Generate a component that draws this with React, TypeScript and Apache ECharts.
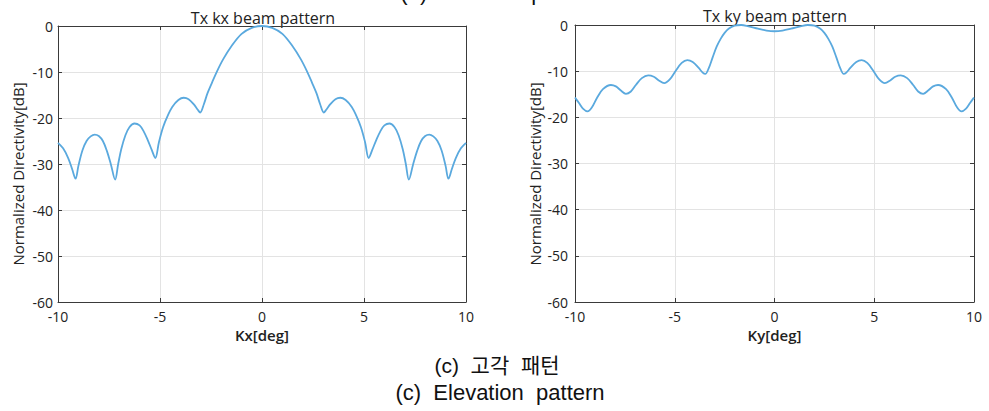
import React, { useEffect, useRef } from "react";
import * as echarts from "echarts";

// Tx kx beam pattern (left)
const kxDeg = [
  -10, -9.75, -9.5, -9.3, -9.14, -9.0, -8.8, -8.6, -8.4, -8.2, -8.0, -7.8, -7.6, -7.4, -7.2,
  -7.05, -6.9, -6.7, -6.5, -6.25, -6.0, -5.8, -5.6, -5.4, -5.23, -5.05, -4.85, -4.62, -4.4,
  -4.1, -3.84, -3.6, -3.35, -3.15, -3.03, -2.85, -2.67, -2.45, -2.2, -1.9, -1.5, -1.0, -0.5,
  0,
  0.5, 1.0, 1.5, 1.9, 2.2, 2.45, 2.67, 2.85, 3.03, 3.15, 3.35, 3.6, 3.84, 4.1, 4.4, 4.62,
  4.85, 5.05, 5.23, 5.4, 5.6, 5.8, 6.0, 6.25, 6.5, 6.7, 6.9, 7.05, 7.2, 7.4, 7.6, 7.8, 8.0,
  8.2, 8.4, 8.6, 8.8, 9.0, 9.14, 9.3, 9.5, 9.75, 10,
];
const kxDb = [
  -25.4, -26.6, -28.7, -31.2, -33.2, -30.4, -27.0, -25.0, -24.0, -23.6, -23.9, -25.0, -27.2, -30.2, -33.4,
  -30.0, -26.8, -23.8, -22.0, -21.2, -21.6, -22.9, -24.8, -27.0, -28.7, -25.2, -22.0, -19.5, -17.6,
  -16.1, -15.6, -15.9, -17.0, -18.2, -18.8, -17.0, -14.6, -12.3, -9.8, -7.2, -4.4, -1.7, -0.4,
  0,
  -0.4, -1.7, -4.4, -7.2, -9.8, -12.3, -14.6, -17.0, -18.8, -18.2, -17.0, -15.9, -15.6, -16.1, -17.6, -19.5,
  -22.0, -25.2, -28.7, -27.0, -24.8, -22.9, -21.6, -21.2, -22.0, -23.8, -26.8, -30.0, -33.4, -30.2, -27.2, -25.0, -23.9,
  -23.6, -24.0, -25.0, -27.0, -30.4, -33.2, -31.2, -28.7, -26.6, -25.4,
];

// Tx ky beam pattern (right)
const kyDeg = [
  -10, -9.8, -9.6, -9.37, -9.15, -8.9, -8.6, -8.2, -7.95, -7.7, -7.45, -7.2, -6.95, -6.65,
  -6.33, -6.05, -5.8, -5.53, -5.25, -4.95, -4.65, -4.37, -4.1, -3.8, -3.6, -3.47, -3.3,
  -3.1, -2.9, -2.7, -2.5, -2.3, -2.0, -1.67, -1.3, -0.83, -0.4,
  0,
  0.4, 0.83, 1.3, 1.67, 2.0, 2.3, 2.5, 2.7, 2.9, 3.1, 3.3, 3.47, 3.6, 3.8, 4.1, 4.37, 4.65,
  4.95, 5.25, 5.53, 5.8, 6.05, 6.33, 6.65, 6.95, 7.2, 7.45, 7.7, 7.95, 8.2, 8.6, 8.9, 9.15,
  9.37, 9.6, 9.8, 10,
];
const kyDb = [
  -15.7, -16.9, -18.1, -18.7, -17.8, -15.8, -13.9, -13.0, -13.3, -14.2, -14.9, -14.4, -13.0, -11.5,
  -10.9, -11.2, -12.0, -12.6, -11.8, -9.9, -8.2, -7.6, -8.0, -9.3, -10.3, -10.6, -9.4,
  -7.0, -4.7, -3.0, -1.7, -0.8, -0.15, 0, -0.3, -0.8, -1.2,
  -1.35,
  -1.2, -0.8, -0.3, 0, -0.15, -0.8, -1.7, -3.0, -4.7, -7.0, -9.4, -10.6, -10.3, -9.3, -8.0, -7.6, -8.2,
  -9.9, -11.8, -12.6, -12.0, -11.2, -10.9, -11.5, -13.0, -14.4, -14.9, -14.2, -13.3, -13.0, -13.9, -15.8, -17.8,
  -18.7, -18.1, -16.9, -15.7,
];

const xMin = -10;
const xMax = 10;
const xStep = 5;
const yMin = -60;
const yMax = 0;
const yStep = 10;

const titles = ["Tx kx beam pattern", "Tx ky beam pattern"];
const xNames = ["Kx[deg]", "Ky[deg]"];
const yName = "Normalized Directivity[dB]";
const topCaption = "(b)\u00a0\u00a0Azimuth\u00a0\u00a0pattern";
const captionKo = "(c)\u00a0\u00a0고각\u00a0\u00a0패턴";
const captionEn = "(c)\u00a0\u00a0Elevation\u00a0\u00a0pattern";

const FONT = "'Open Sans', 'Noto Sans', sans-serif";
const CAPFONT = "'Liberation Sans', 'Noto Sans CJK KR', sans-serif";
const LINE = "#5aa9de";
const AX = "#3a3a3a";
const GRIDC = "#e3e3e3";

export default function App() {
  const ref = useRef<HTMLDivElement>(null);
  useEffect(() => {
    if (!ref.current) return;
    const chart = echarts.init(ref.current, undefined, { renderer: "svg" });
    const grids = [
      { left: 58, top: 26, width: 408, height: 276 },
      { left: 575, top: 25, width: 399, height: 277 },
    ];
    const labelMargins = [5, 7];
    const xAxes: any[] = [];
    const yAxes: any[] = [];
    grids.forEach((_, i) => {
      xAxes.push({
        gridIndex: i,
        type: "value",
        min: xMin,
        max: xMax,
        interval: xStep,
        position: "bottom",
        name: xNames[i],
        nameLocation: "middle",
        nameGap: 23,
        nameTextStyle: { fontFamily: FONT, fontSize: 15, color: "#222", fontWeight: 600 },
        axisLine: { show: true, onZero: false, lineStyle: { color: AX, width: 1 } },
        axisTick: { show: true, inside: true, length: 4, lineStyle: { color: AX } },
        axisLabel: { fontFamily: FONT, fontSize: 14, color: "#222", margin: 7 },
        splitLine: { show: true, lineStyle: { color: GRIDC, width: 1 } },
      });
      xAxes.push({
        gridIndex: i,
        type: "value",
        min: xMin,
        max: xMax,
        interval: xStep,
        position: "top",
        axisLine: { show: true, onZero: false, lineStyle: { color: AX, width: 1 } },
        axisTick: { show: true, inside: true, length: 4, lineStyle: { color: AX } },
        axisLabel: { show: false },
        splitLine: { show: false },
      });
      yAxes.push({
        gridIndex: i,
        type: "value",
        min: yMin,
        max: yMax,
        interval: yStep,
        position: "left",
        axisLine: { show: true, onZero: false, lineStyle: { color: AX, width: 1 } },
        axisTick: { show: true, inside: true, length: 4, lineStyle: { color: AX } },
        axisLabel: { fontFamily: FONT, fontSize: 14, color: "#222", margin: labelMargins[i] },
        splitLine: { show: true, lineStyle: { color: GRIDC, width: 1 } },
      });
      yAxes.push({
        gridIndex: i,
        type: "value",
        min: yMin,
        max: yMax,
        interval: yStep,
        position: "right",
        axisLine: { show: true, onZero: false, lineStyle: { color: AX, width: 1 } },
        axisTick: { show: true, inside: true, length: 4, lineStyle: { color: AX } },
        axisLabel: { show: false },
        splitLine: { show: false },
      });
    });

    const mk = (xs: number[], ys: number[]) => xs.map((x, k) => [x, ys[k]]);

    const textEl = (text: string, x: number, y: number, size: number, extra: any = {}) => ({
      type: "text",
      x,
      y,
      silent: true,
      rotation: extra.rotation || 0,
      style: {
        text,
        fontFamily: extra.fontFamily || FONT,
        fontSize: size,
        fontWeight: extra.fontWeight || "normal",
        fill: extra.fill || "#222",
        align: "center",
        verticalAlign: "middle",
      },
    });

    chart.setOption({
      animation: false,
      backgroundColor: "#ffffff",
      grid: grids,
      xAxis: xAxes,
      yAxis: yAxes,
      series: [
        {
          type: "line",
          xAxisIndex: 0,
          yAxisIndex: 0,
          data: mk(kxDeg, kxDb),
          smooth: 0.35,
          showSymbol: false,
          lineStyle: { color: LINE, width: 1.8 },
        },
        {
          type: "line",
          xAxisIndex: 2,
          yAxisIndex: 2,
          data: mk(kyDeg, kyDb),
          smooth: 0.35,
          showSymbol: false,
          lineStyle: { color: LINE, width: 1.8 },
        },
      ],
      graphic: [
        textEl(titles[0], 263, 18, 16),
        textEl(titles[1], 775, 16, 16),
        textEl(yName, 18, 174, 15, { rotation: Math.PI / 2 }),
        textEl(yName, 535, 174, 15, { rotation: Math.PI / 2 }),
        textEl(topCaption, 500, -8, 22, { fontFamily: CAPFONT, fill: "#111" }),
        textEl(captionKo, 497, 365, 21, { fontFamily: CAPFONT, fill: "#111" }),
        textEl(captionEn, 500, 392, 22, { fontFamily: CAPFONT, fill: "#111" }),
      ],
    });
    return () => chart.dispose();
  }, []);
  return (
    <div
      ref={ref}
      style={{ position: "absolute", left: 0, top: 0, width: 989, height: 411 }}
    />
  );
}
